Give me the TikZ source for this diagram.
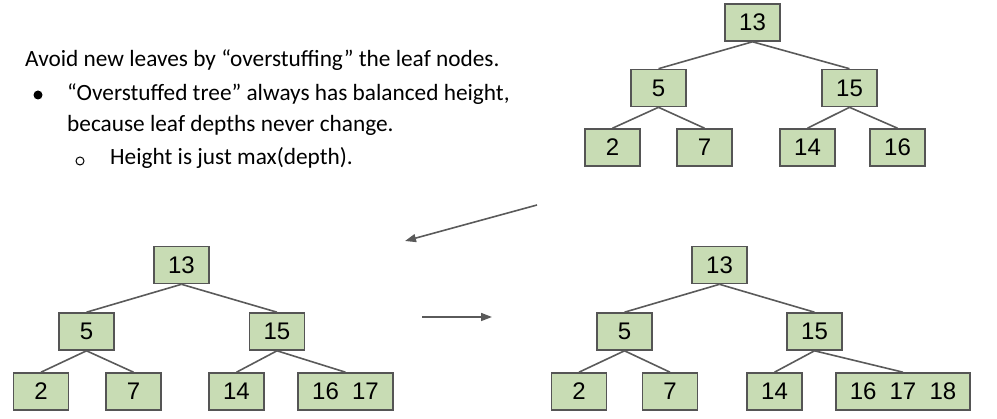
\documentclass[tikz,border=0pt]{standalone}
\usepackage{fontspec}
\setmainfont{Carlito}
\newfontfamily\numfont{Liberation Sans}
\usepackage{tikz}
\usetikzlibrary{arrows.meta, positioning}
\definecolor{boxfill}{RGB}{200,220,180}
\definecolor{boxline}{RGB}{85,85,85}
\definecolor{linkgray}{RGB}{90,90,90}
\tikzset{
    %Define standard arrow tip
    >={Triangle[length=11pt,width=8pt]},
}
\newcommand{\gap}{\hspace{0.55em}}

\begin{document}
\begin{tikzpicture}[
    x=1pt, y=-1pt,
    numbox/.style = {draw=boxline, fill=boxfill, line width=1.6pt,
                     font=\numfont\fontsize{24}{27}\selectfont,
                     minimum height=37pt, minimum width=55pt, inner sep=0pt},
    link/.style = {draw=linkgray, line width=1.6pt},
    txt/.style = {anchor=base west, inner sep=0pt,
                  font=\fontsize{23.3}{28}\selectfont},
  ]
  \useasboundingbox (0,0) rectangle (997,419);
  % text
  \node[txt] (line1) at (25,67) {Avoid new leaves by “overstuffing” the leaf nodes.};
  \node[circle, fill=black, inner sep=0pt, minimum size=9pt] (dot1) at (38,95) {};
  \node[txt] (line2) at (67,101) {“Overstuffed tree” always has balanced height,};
  \node[txt] (line3) at (67,131.5) {because leaf depths never change.};
  \node[circle, draw=black, line width=1pt, inner sep=0pt, minimum size=8pt] (dot2) at (80,161) {};
  \node[txt] (line4) at (110,165) {Height is just max(depth).};
  % top tree
  \node[numbox] (a13) at (752.5,22.5) {13};
  \node[numbox] (a5)  at (658.5,88) {5};
  \node[numbox] (a15) at (849.5,88) {15};
  \node[numbox] (a2)  at (612.5,147.5) {2};
  \node[numbox] (a7)  at (704.5,147.5) {7};
  \node[numbox] (a14) at (807.5,147.5) {14};
  \node[numbox] (a16) at (897.5,147.5) {16};
  \draw[link] (a13.south) -- (a5.north);
  \draw[link] (a13.south) -- (a15.north);
  \draw[link] (a5.south) -- (a2.north);
  \draw[link] (a5.south) -- (a7.north);
  \draw[link] (a15.south) -- (a14.north);
  \draw[link] (a15.south) -- (a16.north);
  % bottom left tree
  \node[numbox] (b13) at (181.5,265) {13};
  \node[numbox] (b5)  at (86.5,331.5) {5};
  \node[numbox] (b15) at (277,331.5) {15};
  \node[numbox] (b2)  at (41,391.5) {2};
  \node[numbox] (b7)  at (133.5,391.5) {7};
  \node[numbox] (b14) at (236.5,391.5) {14};
  \node[numbox, minimum width=95pt] (b1617) at (345.5,391.5) {16\gap17};
  \draw[link] (b13.south) -- (b5.north);
  \draw[link] (b13.south) -- (b15.north);
  \draw[link] (b5.south) -- (b2.north);
  \draw[link] (b5.south) -- (b7.north);
  \draw[link] (b15.south) -- (b14.north);
  \draw[link] (b15.south) -- (b1617.north);
  % bottom right tree
  \node[numbox] (c13) at (719.5,265) {13};
  \node[numbox] (c5)  at (624.5,331.5) {5};
  \node[numbox] (c15) at (814.5,331.5) {15};
  \node[numbox] (c2)  at (579,391.5) {2};
  \node[numbox] (c7)  at (670,391.5) {7};
  \node[numbox] (c14) at (774.5,391.5) {14};
  \node[numbox, minimum width=134pt] (c161718) at (903,391.5) {16\gap17\gap18};
  \draw[link] (c13.south) -- (c5.north);
  \draw[link] (c13.south) -- (c15.north);
  \draw[link] (c5.south) -- (c2.north);
  \draw[link] (c5.south) -- (c7.north);
  \draw[link] (c15.south) -- (c14.north);
  \draw[link] (c15.south) -- (c161718.north);
  % arrows
  \coordinate (diagfrom) at (537,205);
  \coordinate (diagto) at (405,241);
  \coordinate (stepfrom) at (422,317);
  \coordinate (stepto) at (492,317);
  \draw[link, ->] (diagfrom) -- (diagto);
  \draw[link, ->] (stepfrom) -- (stepto);
\end{tikzpicture}
\end{document}
